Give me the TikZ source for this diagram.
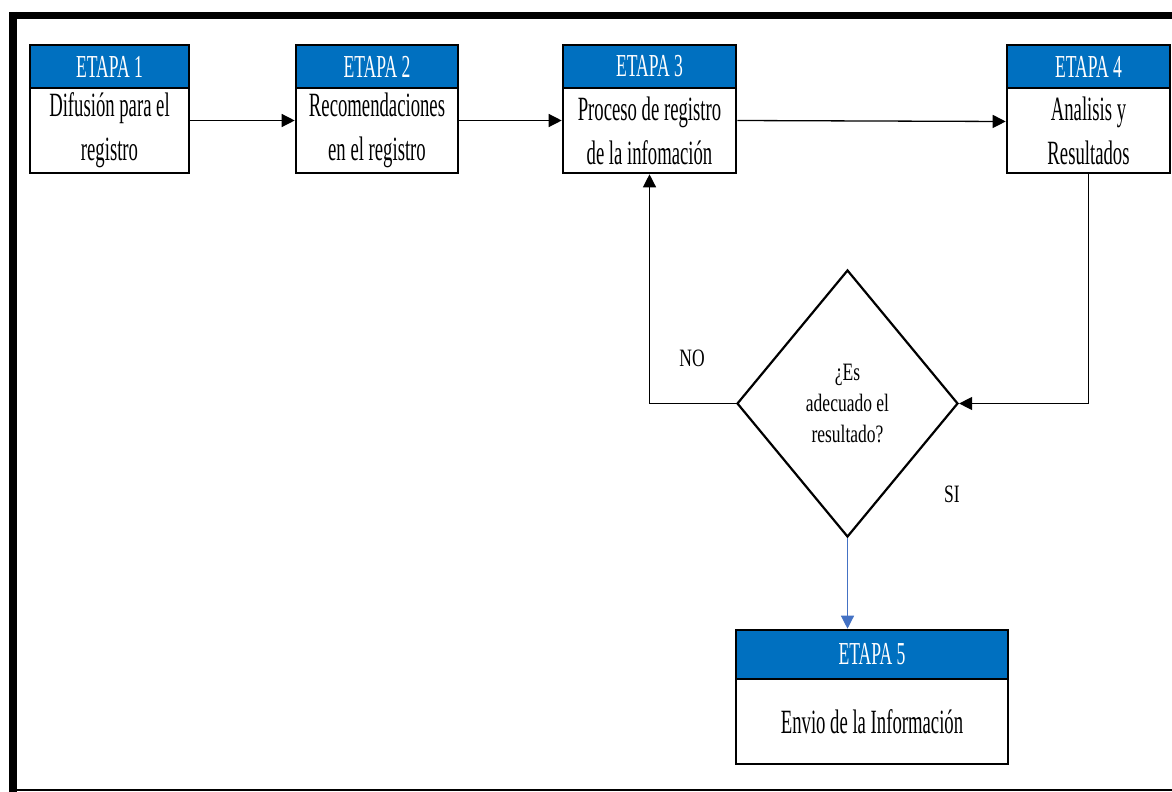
\documentclass[tikz,border=0pt]{standalone}
\usepackage{fontspec}
\setmainfont{Liberation Serif}[FakeStretch=0.55]
\newfontfamily\diamfont{Liberation Serif}[FakeStretch=0.7]
\usetikzlibrary{arrows.meta,shapes.geometric}
\definecolor{etapablue}{RGB}{0,112,192}
\definecolor{siblue}{RGB}{68,114,196}

\begin{document}
\begin{tikzpicture}[x=1pt,y=-1pt,line join=miter,
    head/.style={draw, line width=2.6pt, fill=etapablue, text=white, inner sep=0pt,
        font=\fontsize{32}{37}\selectfont},
    body/.style={draw, line width=2.6pt, fill=white, align=center, inner sep=0pt,
        font=\fontsize{34}{44}\selectfont},
    flecha/.style={line width=1.3pt, -{Triangle[length=13pt,width=13pt]}}]

    \useasboundingbox (0,0) rectangle (1172,792);

    % Frame
    \draw[line width=7pt] (9,15.5) -- (1180,15.5);
    \draw[line width=8pt] (13,12) -- (13,800);
    \draw[line width=2pt] (9,790) -- (1180,790);

    % Stages
    \node[head, minimum width=159pt, minimum height=43pt] (h1) at (109.5,66.5) {ETAPA 1};
    \node[body, minimum width=159pt, minimum height=85pt] (d1) at (109.5,130.5) {Difusión para el\\registro};
    \node[head, minimum width=162pt, minimum height=43pt] (h2) at (377,66.5) {ETAPA 2};
    \node[body, minimum width=162pt, minimum height=85pt] (d2) at (377,130.5) {Recomendaciones\\en el registro};
    \node[head, minimum width=173pt, minimum height=43pt] (h3) at (649.5,66.5) {ETAPA 3};
    \node[body, minimum width=173pt, minimum height=85pt] (d3) at (649.5,130.5) {Proceso de registro\\de la infomación};
    \node[head, minimum width=163pt, minimum height=43pt] (h4) at (1088.5,66.5) {ETAPA 4};
    \node[body, minimum width=163pt, minimum height=85pt] (d4) at (1088.5,130.5) {Analisis y\\Resultados};
    \node[head, minimum width=272pt, minimum height=49pt] (h5) at (872,654.5) {ETAPA 5};
    \node[body, minimum width=272pt, minimum height=85pt] (d5) at (872,721.5) {Envio de la Información};

    % Decision
    \node[diamond, draw, line width=2.2pt, minimum width=221pt, minimum height=267pt, inner sep=0pt,
        align=center, font=\diamfont\fontsize{25}{31}\selectfont] (q) at (847.5,403.5) {¿Es\\adecuado el\\resultado?};
    \node[font=\diamfont\fontsize{25}{30}\selectfont] (no) at (692,358) {NO};
    \node[font=\diamfont\fontsize{25}{30}\selectfont] (si) at (952,494) {SI};

    % Connectors
    \draw[flecha] ([yshift=10pt]d1.east) -- ([yshift=10pt]d2.west);
    \draw[flecha] ([yshift=10pt]d2.east) -- ([yshift=10pt]d3.west);
    \draw[flecha] ([yshift=10pt]d3.east) -- ([yshift=9pt]d4.west);
    \draw[flecha] (d4.south) |- (q.east);
    \draw[flecha] (q.west) -| (d3.south);
    \draw[flecha, siblue] (q.south) -- (q.south |- h5.north);
\end{tikzpicture}
\end{document}
